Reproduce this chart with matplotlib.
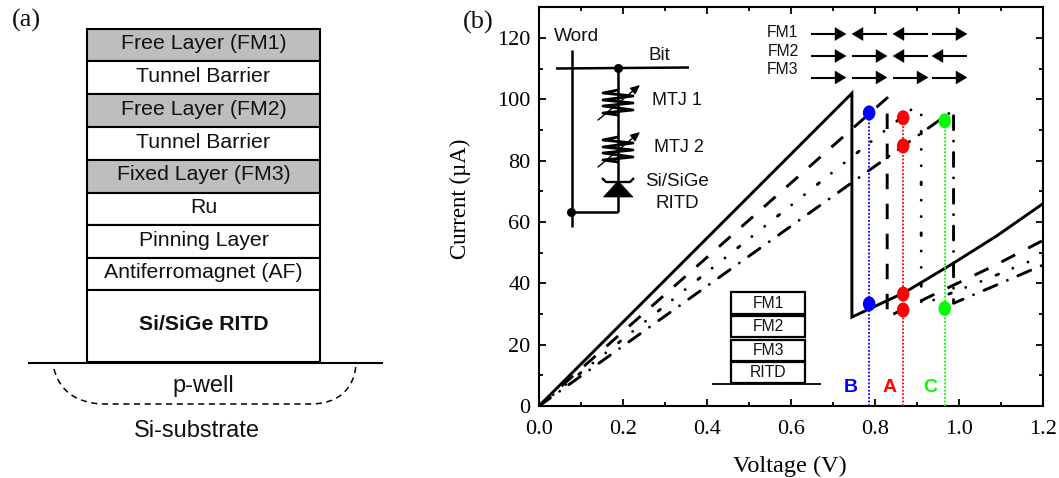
import matplotlib
matplotlib.use("Agg")
import matplotlib.pyplot as plt
from matplotlib.patches import Rectangle, Ellipse, Polygon, PathPatch
from matplotlib.path import Path
from matplotlib.ticker import MultipleLocator

SERIF = "Liberation Serif"
SANS = "Liberation Sans"

# I-V curves: (voltage, current)
solid_v = [0, 0.745, 0.745, 0.87, 0.987, 1.09, 1.2]
solid_i = [0, 102, 29, 37, 46.6, 55.5, 66]
dash_v = [0, 0.829, 0.829, 0.95, 1.08, 1.2]
dash_i = [0, 100.5, 29, 37, 45.5, 54]
dot_v = [0, 0.895, 0.91, 0.91, 1.05, 1.2]
dot_i = [0, 97.6, 96, 33, 40.5, 49]
dashdot_v = [0, 0.987, 0.987, 1.09, 1.2]
dashdot_i = [0, 96.5, 33.5, 39.5, 46]

# operating points
point_b_v, point_b_i = [0.786, 0.786], [95.6, 33.3]
point_a_v, point_a_i = [0.867, 0.867, 0.867, 0.867], [94, 84.8, 36.5, 31.3]
point_c_v, point_c_i = [0.966, 0.966], [93, 31.8]

xticks = [0.0, 0.2, 0.4, 0.6, 0.8, 1.0, 1.2]
yticks = [0, 20, 40, 60, 80, 100, 120]

# layer stack of panel (a)
layer_names = ["Free Layer (FM1)", "Tunnel Barrier", "Free Layer (FM2)", "Tunnel Barrier",
               "Fixed Layer (FM3)", "Ru", "Pinning Layer", "Antiferromagnet (AF)", "Si/SiGe RITD"]
layer_edges = [28.5, 61, 94, 127, 159.5, 192.5, 225, 257.5, 290, 362]
layer_gray = [True, False, True, False, True, False, False, False, False]

# magnetisation arrows: row label, direction of each column
fm_rows = ["FM1", "FM2", "FM3"]
fm_dirs = [[1, -1, -1, 1], [1, 1, -1, -1], [1, 1, 1, 1]]

inset_names = ["FM1", "FM2", "FM3", "RITD"]
inset_edges = [(292, 314), (316, 337), (340, 361), (362, 382.5)]

fig = plt.figure(figsize=(10.59, 4.78), dpi=100)
ax = fig.add_axes([539 / 1059, 1 - 406 / 478, (1043 - 539) / 1059, (406 - 7.4) / 478])
lw = 2.1
ax.plot(solid_v, solid_i, color="k", lw=lw, solid_joinstyle="miter")
ax.plot(dash_v, dash_i, color="k", lw=lw, dashes=(5.3, 5.0))
ax.plot(dot_v, dot_i, color="k", lw=lw, dashes=(0.9, 5.3, 0.01, 5.6, 0.01, 5.6), dash_capstyle="round")
ax.plot(dashdot_v, dashdot_i, color="k", lw=lw, dashes=(4.8, 3.9, 0.01, 3.9), dash_capstyle="round")

for vs, iss, col in [(point_b_v, point_b_i, "#0000ff"),
                     (point_a_v, point_a_i, "#ff0000"),
                     (point_c_v, point_c_i, "#00ff00")]:
    ax.plot([vs[0], vs[0]], [0, max(iss)], color=col, lw=1.3, ls=(0, (1, 1)), zorder=3, clip_on=False)
    for v, i in zip(vs, iss):
        ax.add_patch(Ellipse((v, i), 12.5 / 420, 15 / 3.066, color=col, zorder=4, lw=0))

ax.set_xlim(0, 1.2)
ax.set_ylim(0, 130)
ax.set_xticks(xticks)
ax.set_xticklabels([f"{t:.1f}" for t in xticks])
ax.set_yticks(yticks)
ax.xaxis.set_minor_locator(MultipleLocator(0.1))
ax.yaxis.set_minor_locator(MultipleLocator(10))
ax.tick_params(which="major", direction="in", length=5.2, width=1.3, top=True, right=True, labelsize=16)
ax.tick_params(which="minor", direction="in", length=3, width=1.3, top=True, right=True)
ax.tick_params(axis="x", which="major", pad=10)
ax.tick_params(axis="y", which="major", pad=6)
for lab in ax.get_xticklabels() + ax.get_yticklabels():
    lab.set_fontfamily(SERIF)
for s in ax.spines.values():
    s.set_linewidth(1.5)
ax.set_xlabel("Voltage (V)", fontfamily=SERIF, fontsize=17.5)
ax.set_ylabel("Current (\u00b5A)", fontfamily=SERIF, fontsize=16.5)
ax.xaxis.set_label_coords(0.498, -0.126)
ax.yaxis.set_label_coords(-0.135, 0.519)

# overlay in pixel coordinates for the schematic drawings
ov = fig.add_axes([0, 0, 1, 1], facecolor="none")
ov.set_xlim(0, 1059)
ov.set_ylim(478, 0)
ov.axis("off")


def line(xs, ys, w=1.5, **kw):
    ov.plot(xs, ys, color="k", lw=w, solid_capstyle="butt", **kw)


def label(x, y, s, size=13, family=SANS, **kw):
    ov.text(x, y, s, fontsize=size, fontfamily=family, ha="center", va="center", color="#111111", **kw)


label(26, 20, "(a)", size=19, family=SERIF)
label(478, 22, "(b)", size=19, family=SERIF)

# panel (a) stack
for k, name in enumerate(layer_names):
    top, bot = layer_edges[k], layer_edges[k + 1]
    ov.add_patch(Rectangle((87, top), 233, bot - top, fc="#bebebe" if layer_gray[k] else "white",
                           ec="k", lw=1.5))
    label(203.5, (top + bot) / 2 - 1, name, weight="bold" if k == 8 else "normal", size=15.3)
line([28, 383], [362.5, 362.5])
well = Path([(54, 369), (62, 400), (90, 404), (105, 404), (310, 404), (350, 404), (356, 375), (356, 362)],
            [Path.MOVETO, Path.CURVE4, Path.CURVE4, Path.LINETO, Path.LINETO, Path.CURVE4, Path.CURVE4, Path.CURVE4])
ov.add_patch(PathPatch(well, fc="none", ec="k", lw=1.1, ls=(0, (4, 3))))
label(203, 386, "p-well", size=17)
label(197, 431, "Si-substrate", size=17)

# circuit
line([572, 572], [50, 227], 1.8)
line([556, 689], [68.5, 67.5], 1.8)
line([618, 618], [68, 212], 1.8)
line([571, 618], [212, 212], 1.8)
ov.plot([618, 571], [68, 212], "o", color="k", ms=6.5, mew=0)
for y0 in (90, 137):
    xs = [618, 603, 633, 603, 633, 603, 633, 603, 618]
    ys = [y0 + d for d in (0, 3, 6, 10, 13, 16, 20, 23, 25)]
    line(xs, ys, 2.0)
    ov.annotate("", xy=(640, y0 - 5), xytext=(598, y0 + 30),
                arrowprops=dict(arrowstyle="-|>,head_width=0.25,head_length=0.55", color="k", lw=1, shrinkA=0, shrinkB=0))
ov.add_patch(Polygon([(618, 181), (603.5, 197), (633, 197)], fc="k", ec="k", lw=0.5))
line([602, 606, 630, 634], [178, 182, 182, 178], 1.7)
label(576, 36, "Word", size=13.8)
label(659, 55, "Bit", size=13.5)
label(677, 100, "MTJ 1", size=13)
label(679, 148, "MTJ 2", size=13)
label(677, 182, "Si/SiGe", size=13.5)
label(677, 203, "RITD", size=13.5)

# magnetisation table
for r, name in enumerate(fm_rows):
    y = [34, 56, 77.5][r]
    label(782 + (1 if r else 0), [32, 51, 69][r], name, size=11.3)
    for c, d in enumerate(fm_dirs[r]):
        x0 = [811, 852, 893, 932][c]
        a, b = (x0, x0 + 35) if d > 0 else (x0 + 35, x0)
        line([a, b - 8 * d], [y, y], 1.5)
        ov.add_patch(Polygon([(b, y), (b - 11 * d, y - 6.5), (b - 11 * d, y + 6.5)], fc="k", ec="k", lw=0.3))

# small stack inset
for name, (t, b) in zip(inset_names, inset_edges):
    ov.add_patch(Rectangle((731, t), 74, b - t, fc="white", ec="k", lw=1.6))
    label(768, (t + b) / 2, name, size=11.3)
line([712, 821], [383.5, 383.5], 1.3)

for x, s, c in [(851, "B", "#0000ff"), (890, "A", "#ff0000"), (930, "C", "#00ff00")]:
    ov.text(x, 387, s, color=c, fontsize=14, fontfamily=SANS, weight="bold", ha="center", va="center")

fig.savefig("out.png", dpi=100)
